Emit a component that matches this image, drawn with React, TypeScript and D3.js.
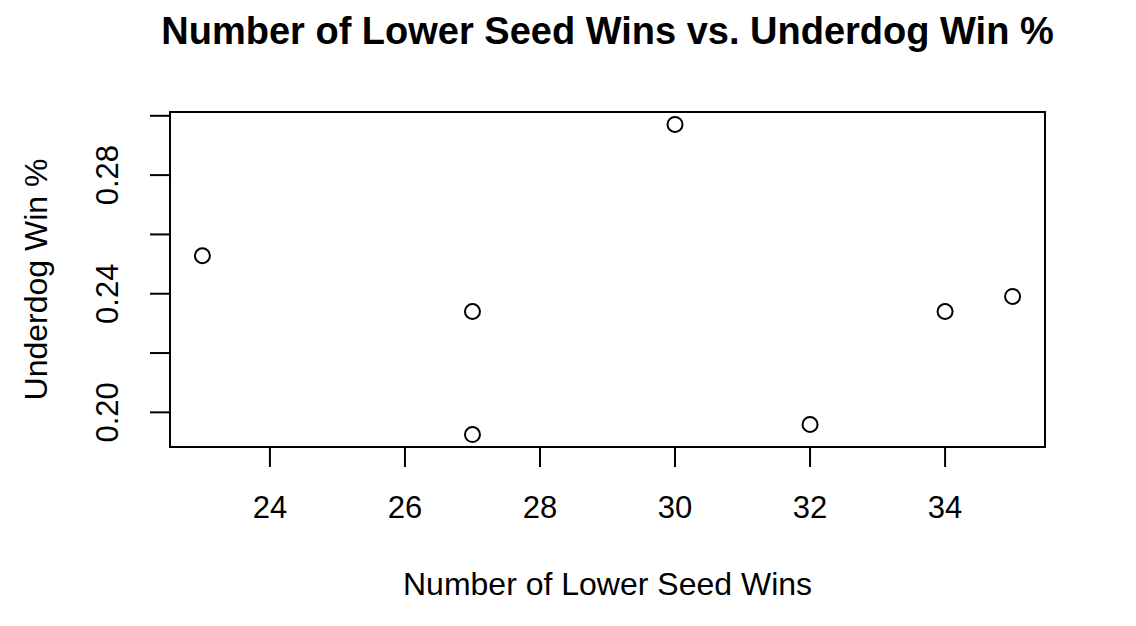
import * as d3 from 'd3'
import { useEffect, useRef } from 'react'

// Lower seed wins per tournament vs. underdog win share
const lowerSeedWins = [23, 27, 27, 30, 32, 34, 35]
const underdogWinPct = [0.2528, 0.234, 0.1925, 0.2971, 0.1959, 0.234, 0.2391]
const xTicks = [24, 26, 28, 30, 32, 34]
const yTicks = [0.2, 0.22, 0.24, 0.26, 0.28, 0.3]
const yTickLabels = ['0.20', '', '0.24', '', '0.28', '']

const WIDTH = 1136
const HEIGHT = 626
const FONT = '"Liberation Sans", Arial, Helvetica, sans-serif'

// R-style range: data extent padded by 4% on each side
const padExtent = (vals: number[]) => {
    const [lo, hi] = d3.extent(vals) as [number, number]
    const pad = (hi - lo) * 0.04
    return [lo - pad, hi + pad]
}

const drawChart = (el: SVGSVGElement) => {
    const box = { left: 170, right: 1045, top: 112, bottom: 447 }

    const svg = d3.select(el)
    svg.selectAll('*').remove()

    const x = d3.scaleLinear()
        .domain(padExtent(lowerSeedWins))
        .range([box.left, box.right])

    const y = d3.scaleLinear()
        .domain(padExtent(underdogWinPct))
        .range([box.bottom, box.top])

    // Title
    svg.append('text')
        .attr('x', (box.left + box.right) / 2)
        .attr('y', 44)
        .attr('text-anchor', 'middle')
        .attr('font-family', FONT)
        .attr('font-weight', 'bold')
        .attr('font-size', 38)
        .text('Number of Lower Seed Wins vs. Underdog Win %')

    // Plot box
    svg.append('rect')
        .attr('x', box.left)
        .attr('y', box.top)
        .attr('width', box.right - box.left)
        .attr('height', box.bottom - box.top)
        .attr('fill', 'none')
        .attr('stroke', '#000')
        .attr('stroke-width', 2)

    // X axis
    const xAxis = svg.append('g')
    xAxis.append('line')
        .attr('x1', x(xTicks[0]))
        .attr('x2', x(xTicks[xTicks.length - 1]))
        .attr('y1', box.bottom)
        .attr('y2', box.bottom)
        .attr('stroke', '#000')
        .attr('stroke-width', 2)
    xTicks.forEach(t => {
        xAxis.append('line')
            .attr('x1', x(t))
            .attr('x2', x(t))
            .attr('y1', box.bottom)
            .attr('y2', box.bottom + 20)
            .attr('stroke', '#000')
            .attr('stroke-width', 2)
        xAxis.append('text')
            .attr('x', x(t))
            .attr('y', 518)
            .attr('text-anchor', 'middle')
            .attr('font-family', FONT)
            .attr('font-size', 31)
            .text(t)
    })

    // Y axis
    const yAxis = svg.append('g')
    yAxis.append('line')
        .attr('x1', box.left)
        .attr('x2', box.left)
        .attr('y1', y(yTicks[0]))
        .attr('y2', y(yTicks[yTicks.length - 1]))
        .attr('stroke', '#000')
        .attr('stroke-width', 2)
    yTicks.forEach((t, i) => {
        yAxis.append('line')
            .attr('x1', box.left - 20)
            .attr('x2', box.left)
            .attr('y1', y(t))
            .attr('y2', y(t))
            .attr('stroke', '#000')
            .attr('stroke-width', 2)
        if (yTickLabels[i]) {
            yAxis.append('text')
                .attr('transform', `translate(118,${y(t)}) rotate(-90)`)
                .attr('text-anchor', 'middle')
                .attr('font-family', FONT)
                .attr('font-size', 31)
                .text(yTickLabels[i])
        }
    })

    // Axis titles
    svg.append('text')
        .attr('x', (box.left + box.right) / 2)
        .attr('y', 595)
        .attr('text-anchor', 'middle')
        .attr('font-family', FONT)
        .attr('font-size', 32)
        .text('Number of Lower Seed Wins')

    svg.append('text')
        .attr('transform', `translate(47,${(box.top + box.bottom) / 2}) rotate(-90)`)
        .attr('text-anchor', 'middle')
        .attr('font-family', FONT)
        .attr('font-size', 32)
        .text('Underdog Win %')

    // Points
    svg.append('g')
        .selectAll('circle')
        .data(lowerSeedWins.map((w, i) => [w, underdogWinPct[i]]))
        .enter()
        .append('circle')
        .attr('cx', d => x(d[0]))
        .attr('cy', d => y(d[1]))
        .attr('r', 7.5)
        .attr('fill', 'none')
        .attr('stroke', '#000')
        .attr('stroke-width', 2)
}

const App = () => {
    const ref = useRef<SVGSVGElement>(null)

    useEffect(() => {
        document.body.style.margin = '0'
        if (ref.current) drawChart(ref.current)
    }, [])

    return (
        <svg ref={ref} width={WIDTH} height={HEIGHT} style={{ display: 'block', background: '#fff' }} />
    )
}

export default App
